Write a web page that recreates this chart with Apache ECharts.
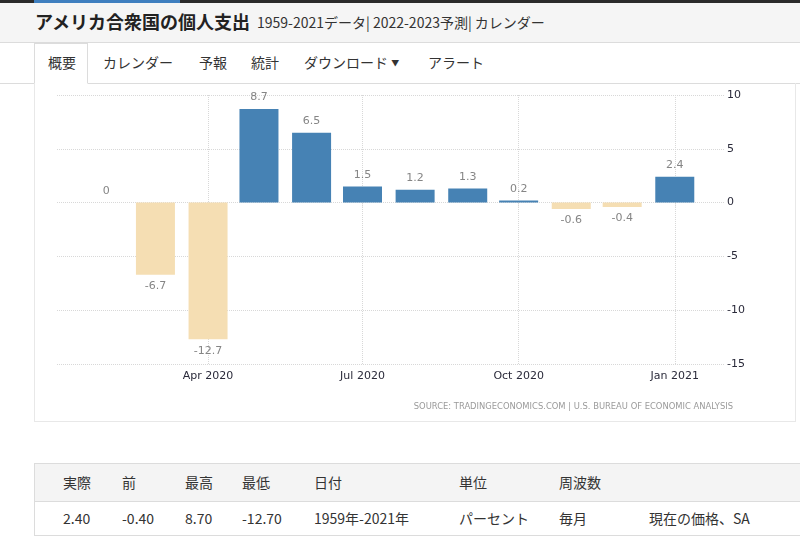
<!DOCTYPE html>
<html>
<head>
<meta charset="utf-8">
<script src="https://cdn.jsdelivr.net/npm/echarts@6/dist/echarts.min.js"></script>
<style>
  html, body { margin: 0; padding: 0; background: #fff; width: 800px; height: 550px; overflow: hidden; font-family: "Noto Sans CJK JP", "Noto Sans", sans-serif; }
  #topbar { position: absolute; left: 0; top: 0; width: 800px; height: 3px; background: #2b2b2b; }
  #topbar .seg { position: absolute; left: 34px; top: 0; width: 146px; height: 3px; background: #3f7fbf; }
  #header { position: absolute; left: 0; top: 3px; width: 800px; height: 39px; background: #f5f5f5; border-bottom: 1px solid #dcdcdc; }
  #header .t { position: absolute; left: 35px; top: 5px; font-size: 18px; font-weight: bold; color: #222; white-space: nowrap; }
  #header .s { position: absolute; left: 257px; top: 9px; font-size: 14px; color: #333; white-space: nowrap; }
  #tabs { position: absolute; left: 0; top: 43px; width: 800px; height: 40px; border-bottom: 1px solid #dcdcdc; }
  #tabs .tab { position: absolute; top: 9px; font-size: 14px; color: #333; white-space: nowrap; }
  #tabs .active { position: absolute; left: 34px; top: 0; width: 54px; background: #fff; border: 1px solid #dcdcdc; border-bottom: 1px solid #fff; box-sizing: border-box; height: 41px; }
  #panel { position: absolute; left: 34px; top: 83px; width: 762px; height: 339px; border: 1px solid #e8e8e8; border-top: none; box-sizing: border-box; }
  #tbl { position: absolute; left: 34px; top: 463px; width: 770px; height: 73px; border: 1px solid #dcdcdc; box-sizing: border-box; }
  #tbl .hrow { position: absolute; left: 0; top: 0; width: 100%; height: 37px; background: #f4f4f4; border-bottom: 1px solid #dcdcdc; }
  #tbl .c { position: absolute; font-size: 14px; color: #333; white-space: nowrap; }
  #chart { position: absolute; left: 0; top: 0; width: 800px; height: 550px; z-index: 5; }
</style>
</head>
<body>
<div id="topbar"><div class="seg"></div></div>
<div id="header"><span class="t">アメリカ合衆国の個人支出</span><span class="s">1959-2021データ| 2022-2023予測| カレンダー</span></div>
<div id="tabs">
  <div class="active"></div>
  <span class="tab" style="left:48px">概要</span>
  <span class="tab" style="left:103px">カレンダー</span>
  <span class="tab" style="left:199px">予報</span>
  <span class="tab" style="left:251px">統計</span>
  <span class="tab" style="left:304px">ダウンロード <span style="font-size:8px;position:relative;top:-2px">▼</span></span>
  <span class="tab" style="left:428px">アラート</span>
</div>
<div id="panel"></div>
<div id="tbl"><div class="hrow"></div></div>
<div id="chart"></div>
<script>
// ---- data ----
var months = ['2020-02', '2020-03', '2020-04', '2020-05', '2020-06', '2020-07', '2020-08', '2020-09', '2020-10', '2020-11', '2020-12', '2021-01'];
var values = [0, -6.7, -12.7, 8.7, 6.5, 1.5, 1.2, 1.3, 0.2, -0.6, -0.4, 2.4];
var yTicks = [-15, -10, -5, 0, 5, 10];
var monthNames = ['Jan', 'Feb', 'Mar', 'Apr', 'May', 'Jun', 'Jul', 'Aug', 'Sep', 'Oct', 'Nov', 'Dec'];
var tableHeaders = ['実際', '前', '最高', '最低', '日付', '単位', '周波数', ''];
var tableValues = ['2.40', '-0.40', '8.70', '-12.70', '1959年-2021年', 'パーセント', '毎月', '現在の価格、SA'];
var sourceText = 'SOURCE: TRADINGECONOMICS.COM | U.S. BUREAU OF ECONOMIC ANALYSIS';

// ---- table ----
var colX = [28, 87, 150, 207, 279, 424, 524, 614];
var tbl = document.getElementById('tbl');
tableHeaders.forEach(function (h, i) {
  var s = document.createElement('span'); s.className = 'c'; s.textContent = h;
  s.style.left = colX[i] + 'px'; s.style.top = '8px'; tbl.appendChild(s);
});
tableValues.forEach(function (h, i) {
  var s = document.createElement('span'); s.className = 'c'; s.textContent = h;
  s.style.left = colX[i] + 'px'; s.style.top = '44px'; tbl.appendChild(s);
});

// ---- chart ----
function toTs(m) { var p = m.split('-'); return Date.UTC(+p[0], +p[1] - 1, 1); }
var POS = '#4682b4', NEG = '#f5deb3';
var barData = months.map(function (m, i) {
  var v = values[i];
  return {
    value: [toTs(m), v],
    itemStyle: { color: v >= 0 ? POS : NEG },
    label: { position: v >= 0 ? 'top' : 'bottom' }
  };
});
var DAY = 24 * 3600 * 1000;
var GRID_L = 57, GRID_R = 724, BAR_W = 39;
// visible date window of the plot
var viewStart = Date.UTC(2020, 0, 3), viewEnd = Date.UTC(2021, 0, 30);
// ECharts 6 pads a bar time axis by half a bar width on each side; pre-shrink so the padded window equals the view
var pad = (viewEnd - viewStart) * (BAR_W / 2) / (GRID_R - GRID_L);
var chart = echarts.init(document.getElementById('chart'), null, { renderer: 'canvas' });
chart.setOption({
  useUTC: true,
  animation: false,
  backgroundColor: 'transparent',
  grid: { left: GRID_L, right: 800 - GRID_R, top: 95, bottom: 186 },
  xAxis: {
    type: 'time',
    min: viewStart + pad,
    max: viewEnd - pad,
    minInterval: 92 * DAY,
    maxInterval: 92 * DAY,
    axisLine: { show: false },
    axisTick: { show: true, length: 5, lineStyle: { color: '#d8d8d8', type: 'dotted' } },
    splitLine: { show: true, showMinLine: false, showMaxLine: false, lineStyle: { color: '#d8d8d8', type: 'dotted' } },
    axisLabel: {
      margin: 7, color: '#2a2a3a', fontSize: 11, fontFamily: 'DejaVu Sans',
      formatter: function (v) { var d = new Date(v); return monthNames[d.getUTCMonth()] + ' ' + d.getUTCFullYear(); }
    }
  },
  yAxis: {
    type: 'value', position: 'right', min: yTicks[0], max: yTicks[yTicks.length - 1], interval: 5,
    axisLine: { show: false }, axisTick: { show: false },
    splitLine: { show: true, lineStyle: { color: '#d8d8d8', type: 'dotted' } },
    axisLabel: { margin: 3, color: '#2a2a3a', fontSize: 11, fontFamily: 'DejaVu Sans' }
  },
  graphic: [{
    type: 'text', right: 67, top: 403,
    style: { text: sourceText, fill: '#9a9a9a', font: '8.4px "DejaVu Sans"' }
  }],
  series: [{
    type: 'bar', barWidth: BAR_W, data: barData, z: 3,
    label: { show: true, distance: 6, color: '#858585', fontSize: 11, fontFamily: 'DejaVu Sans' }
  }]
});
</script>
</body>
</html>
